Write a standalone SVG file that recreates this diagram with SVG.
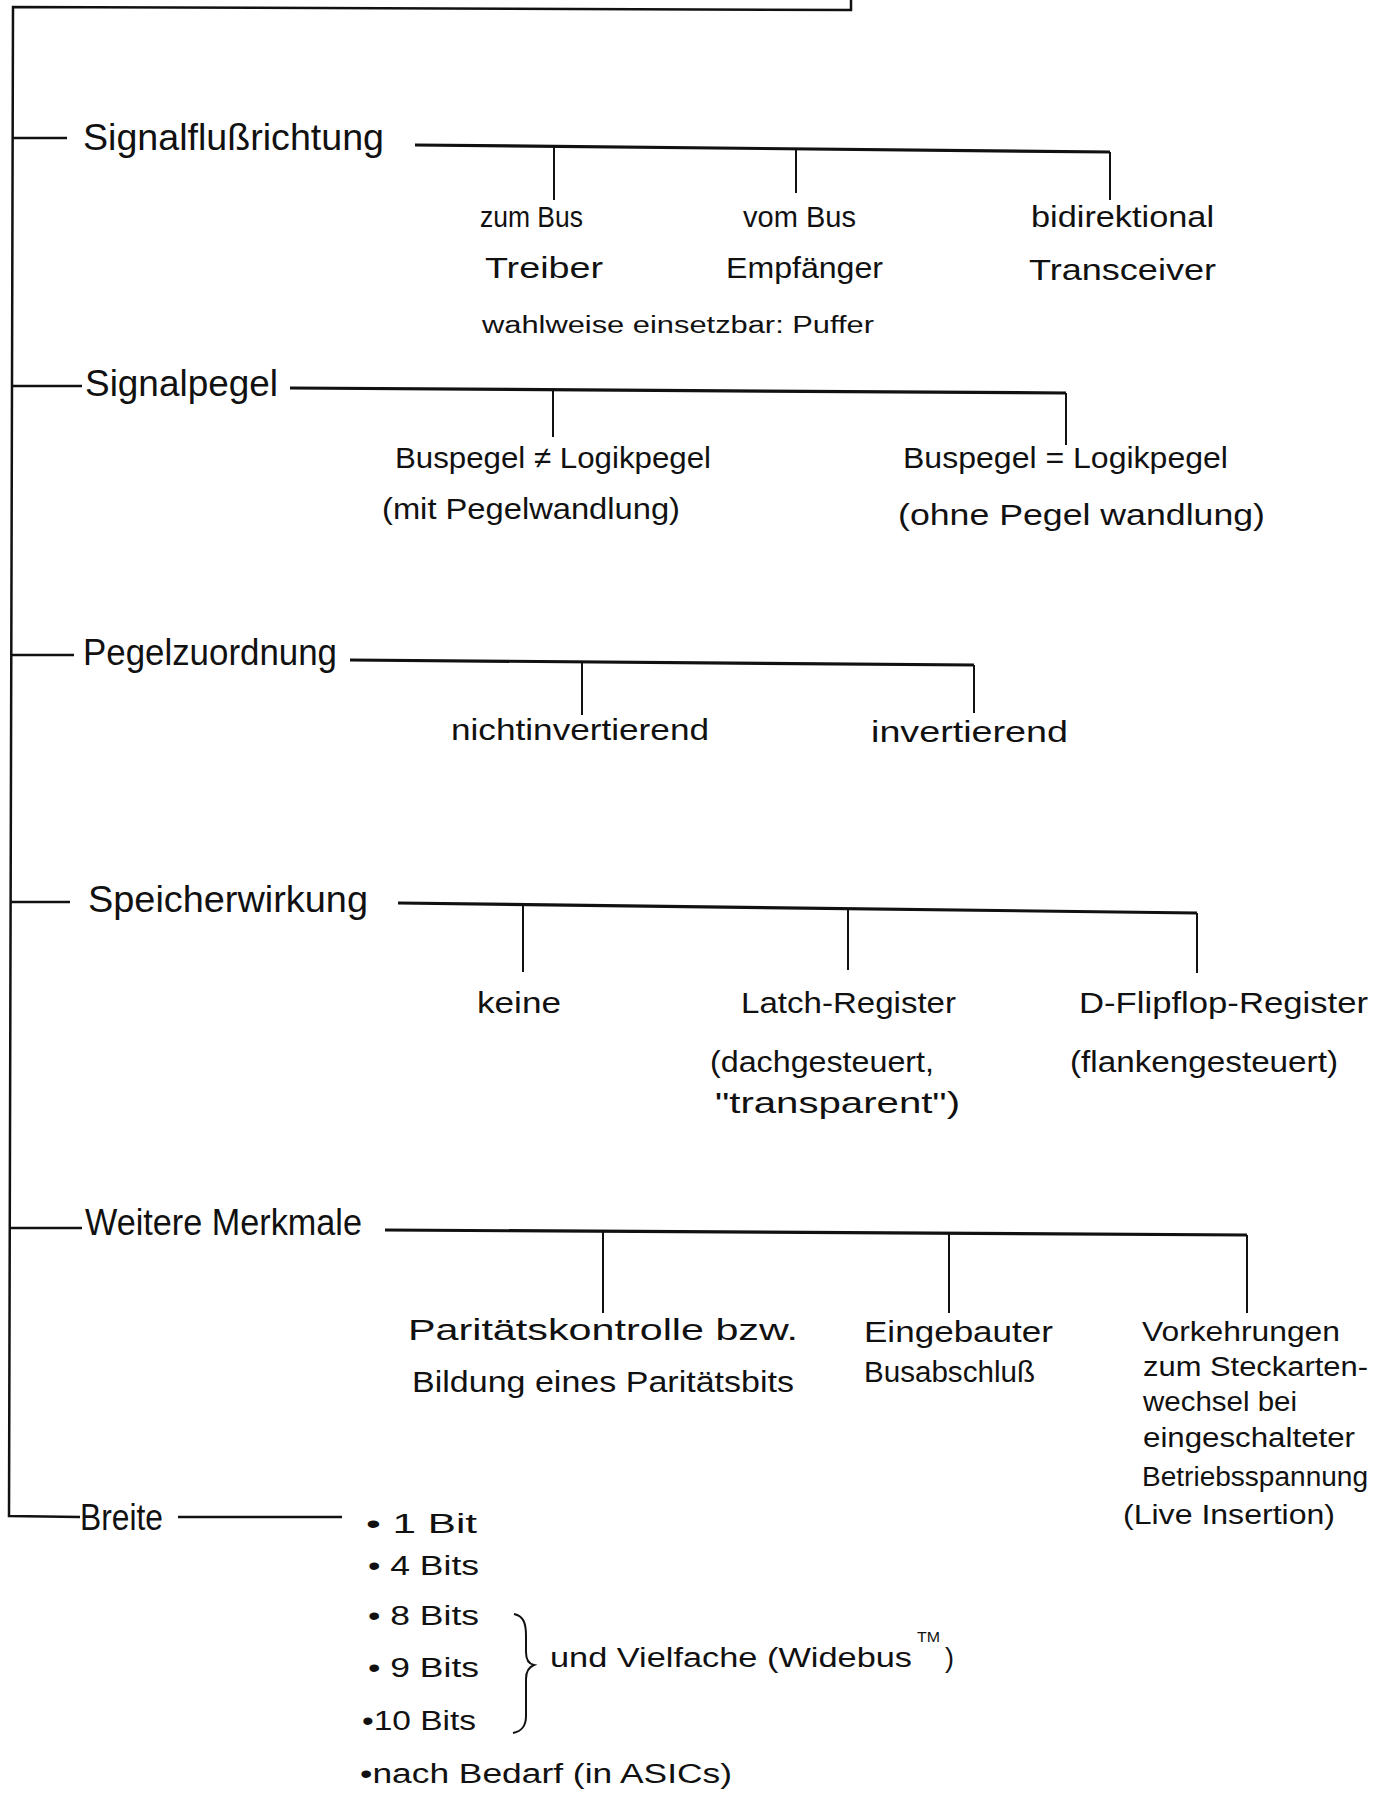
<svg xmlns="http://www.w3.org/2000/svg" width="1375" height="1798" viewBox="0 0 1375 1798">
  <style>
    text { font-family: "Liberation Sans", Arial, sans-serif; fill: #111; }
    .h { font-size: 36px; }
    .l { font-size: 30px; }
    .m { font-size: 27px; }
    .s { font-size: 23px; }
    .sup { font-size: 15px; }
    .bus { fill: none; stroke: #111; stroke-width: 3.2; stroke-linejoin: miter; }
    .drop { fill: none; stroke: #111; stroke-width: 2; }
    .spine { fill: none; stroke: #111; stroke-width: 2.5; }
  </style>
  <rect width="1375" height="1798" fill="#ffffff"/>

  <!-- connectors: outer frame, spine, branch buses and drops -->
  <g id="connectors">
    <path class="spine" d="M851,0 L851,10 L13,7 L9,1516 L80,1517"/>
    <path class="spine" d="M13,138 H67 M12,386 H82 M12,655 H74 M11,902 H70 M10,1228 H82"/>
    <path class="spine" d="M178,1517 H342"/>

    <path class="bus" d="M415,145 L1110,152"/>
    <path class="drop" d="M1110,152 V200 M554,146 V200 M796,149 V193"/>

    <path class="bus" d="M290,388 L1066,393"/>
    <path class="drop" d="M1066,393 V445 M553,390 V437"/>

    <path class="bus" d="M350,660 L974,665"/>
    <path class="drop" d="M974,665 V713 M582,662 V715"/>

    <path class="bus" d="M398,903 L1197,913"/>
    <path class="drop" d="M1197,913 V973 M523,905 V972 M848,909 V970"/>

    <path class="bus" d="M385,1230 L1247,1235"/>
    <path class="drop" d="M1247,1235 V1313 M603,1232 V1313 M949,1234 V1313"/>

    <!-- curly brace grouping 8/9/10 bits -->
    <path class="drop" d="M514,1614 C524,1616 526,1624 526,1636 L526,1652 C526,1660 529,1664 534,1665 C529,1667 526,1671 526,1679 L526,1716 C526,1726 522,1731 513,1733"/>
  </g>

  <!-- Signalflussrichtung -->
  <g id="signalfluss">
    <text class="h" x="83" y="150" textLength="301" lengthAdjust="spacingAndGlyphs">Signalflußrichtung</text>
  </g>
  <g id="zum-bus">
    <text class="l" x="480" y="227" textLength="103" lengthAdjust="spacingAndGlyphs">zum Bus</text>
    <text class="l" x="485" y="278" textLength="118" lengthAdjust="spacingAndGlyphs">Treiber</text>
  </g>
  <g id="vom-bus">
    <text class="l" x="743" y="227" textLength="113" lengthAdjust="spacingAndGlyphs">vom Bus</text>
    <text class="l" x="726" y="278" textLength="157" lengthAdjust="spacingAndGlyphs">Empfänger</text>
  </g>
  <g id="bidirektional">
    <text class="l" x="1031" y="227" textLength="183" lengthAdjust="spacingAndGlyphs">bidirektional</text>
    <text class="l" x="1029" y="280" textLength="187" lengthAdjust="spacingAndGlyphs">Transceiver</text>
  </g>
  <g id="puffer">
    <text class="s" x="482" y="333" textLength="392" lengthAdjust="spacingAndGlyphs">wahlweise einsetzbar: Puffer</text>
  </g>

  <!-- Signalpegel -->
  <g id="signalpegel">
    <text class="h" x="85" y="396" textLength="193" lengthAdjust="spacingAndGlyphs">Signalpegel</text>
  </g>
  <g id="pegel-ungleich">
    <text class="l" x="395" y="468" textLength="316" lengthAdjust="spacingAndGlyphs">Buspegel ≠ Logikpegel</text>
    <text class="l" x="382" y="519" textLength="298" lengthAdjust="spacingAndGlyphs">(mit Pegelwandlung)</text>
  </g>
  <g id="pegel-gleich">
    <text class="l" x="903" y="468" textLength="325" lengthAdjust="spacingAndGlyphs">Buspegel = Logikpegel</text>
    <text class="l" x="898" y="525" textLength="367" lengthAdjust="spacingAndGlyphs">(ohne Pegel wandlung)</text>
  </g>

  <!-- Pegelzuordnung -->
  <g id="pegelzuordnung">
    <text class="h" x="83" y="665" textLength="254" lengthAdjust="spacingAndGlyphs">Pegelzuordnung</text>
  </g>
  <g id="nichtinvertierend">
    <text class="l" x="451" y="740" textLength="258" lengthAdjust="spacingAndGlyphs">nichtinvertierend</text>
  </g>
  <g id="invertierend">
    <text class="l" x="871" y="742" textLength="197" lengthAdjust="spacingAndGlyphs">invertierend</text>
  </g>

  <!-- Speicherwirkung -->
  <g id="speicherwirkung">
    <text class="h" x="88" y="912" textLength="280" lengthAdjust="spacingAndGlyphs">Speicherwirkung</text>
  </g>
  <g id="keine">
    <text class="l" x="477" y="1013" textLength="84" lengthAdjust="spacingAndGlyphs">keine</text>
  </g>
  <g id="latch">
    <text class="l" x="741" y="1013" textLength="215" lengthAdjust="spacingAndGlyphs">Latch-Register</text>
    <text class="l" x="710" y="1072" textLength="224" lengthAdjust="spacingAndGlyphs">(dachgesteuert,</text>
    <text class="l" x="715" y="1113" textLength="245" lengthAdjust="spacingAndGlyphs">"transparent")</text>
  </g>
  <g id="flipflop">
    <text class="l" x="1079" y="1013" textLength="289" lengthAdjust="spacingAndGlyphs">D-Flipflop-Register</text>
    <text class="l" x="1070" y="1072" textLength="268" lengthAdjust="spacingAndGlyphs">(flankengesteuert)</text>
  </g>

  <!-- Weitere Merkmale -->
  <g id="weitere-merkmale">
    <text class="h" x="85" y="1235" textLength="277" lengthAdjust="spacingAndGlyphs">Weitere Merkmale</text>
  </g>
  <g id="paritaet">
    <text class="l" x="408" y="1340" textLength="390" lengthAdjust="spacingAndGlyphs">Paritätskontrolle bzw.</text>
    <text class="l" x="412" y="1392" textLength="382" lengthAdjust="spacingAndGlyphs">Bildung eines Paritätsbits</text>
  </g>
  <g id="busabschluss">
    <text class="l" x="864" y="1342" textLength="189" lengthAdjust="spacingAndGlyphs">Eingebauter</text>
    <text class="l" x="864" y="1382" textLength="171" lengthAdjust="spacingAndGlyphs">Busabschluß</text>
  </g>
  <g id="live-insertion">
    <text class="m" x="1142" y="1341" textLength="198" lengthAdjust="spacingAndGlyphs">Vorkehrungen</text>
    <text class="m" x="1143" y="1376" textLength="225" lengthAdjust="spacingAndGlyphs">zum Steckarten-</text>
    <text class="m" x="1143" y="1411" textLength="154" lengthAdjust="spacingAndGlyphs">wechsel bei</text>
    <text class="m" x="1143" y="1447" textLength="212" lengthAdjust="spacingAndGlyphs">eingeschalteter</text>
    <text class="m" x="1142" y="1486" textLength="226" lengthAdjust="spacingAndGlyphs">Betriebsspannung</text>
    <text class="m" x="1123" y="1524" textLength="212" lengthAdjust="spacingAndGlyphs">(Live Insertion)</text>
  </g>

  <!-- Breite -->
  <g id="breite">
    <text class="h" x="80" y="1530" textLength="83" lengthAdjust="spacingAndGlyphs">Breite</text>
  </g>
  <g id="breite-liste">
    <text class="m" x="366" y="1533" textLength="111" lengthAdjust="spacingAndGlyphs">• 1 Bit</text>
    <text class="m" x="368" y="1575" textLength="111" lengthAdjust="spacingAndGlyphs">• 4 Bits</text>
    <text class="m" x="368" y="1625" textLength="111" lengthAdjust="spacingAndGlyphs">• 8 Bits</text>
    <text class="m" x="368" y="1677" textLength="111" lengthAdjust="spacingAndGlyphs">• 9 Bits</text>
    <text class="m" x="362" y="1730" textLength="114" lengthAdjust="spacingAndGlyphs">•10 Bits</text>
    <text class="m" x="360" y="1783" textLength="372" lengthAdjust="spacingAndGlyphs">•nach Bedarf (in ASICs)</text>
  </g>
  <g id="vielfache">
    <text class="m" x="550" y="1667" textLength="362" lengthAdjust="spacingAndGlyphs">und Vielfache (Widebus</text>
    <text class="sup" x="917" y="1642" textLength="23" lengthAdjust="spacingAndGlyphs">TM</text>
    <text class="m" x="945" y="1667">)</text>
  </g>
</svg>
